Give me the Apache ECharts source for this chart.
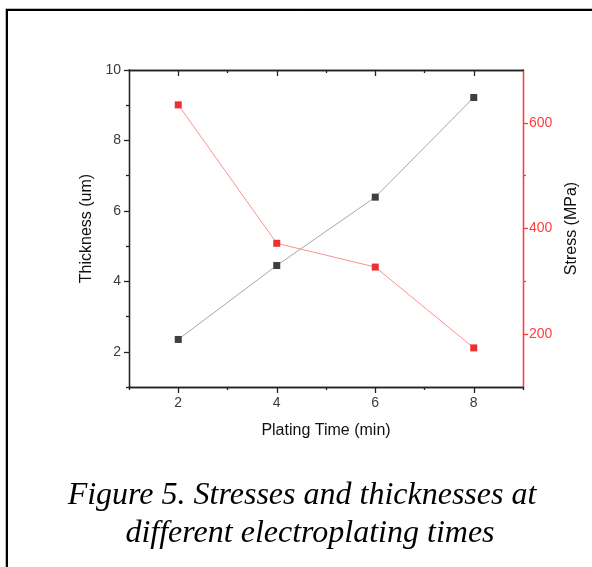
<!DOCTYPE html>
<html>
<head>
<meta charset="utf-8">
<script src="https://cdn.jsdelivr.net/npm/echarts@6/dist/echarts.min.js"></script>
<style>html,body{margin:0;padding:0;background:#fff;}#c{width:592px;height:567px;}</style>
</head>
<body>
<div id="c"></div>
<script>
const platingTime = [2, 4, 6, 8];
const thickness = [2.35, 4.45, 6.39, 9.22];
const stress = [634, 372, 327, 174];
const xMajor = [2, 4, 6, 8];
const xMinor = [1, 3, 5, 7, 9];
const yLeftMajor = [2, 4, 6, 8, 10];
const yLeftMinor = [1, 3, 5, 7, 9];
const yRightMajor = [200, 400, 600];
const yRightMinor = [300, 500];
const captionLines = ['Figure 5. Stresses and thicknesses at', 'different electroplating times'];

const RED = '#ff3c3c';
const AX = '#222';
const LBL = '#3a3a3a';
const font = 'Arial, "Liberation Sans", sans-serif';

function xAx(pos, major, len, inside, showLabel, name) {
  return {
    type: 'value', position: pos, min: 1, max: 9, interval: 1,
    axisLine: { show: true, onZero: false, lineStyle: { color: AX, width: 1.3 } },
    axisTick: { show: true, inside: inside, length: len, customValues: major, lineStyle: { color: AX, width: 1.3 } },
    axisLabel: { show: showLabel, customValues: major, color: LBL, fontSize: 14, fontFamily: font, margin: 9 },
    splitLine: { show: false },
    name: name || '', nameLocation: 'middle', nameGap: 36,
    nameTextStyle: { color: '#111', fontSize: 16, fontFamily: font }
  };
}
function yAx(pos, min, max, ticks, len, showLabel, color, name, gap) {
  return {
    type: 'value', position: pos, min: min, max: max,
    axisLine: { show: true, onZero: false, lineStyle: { color: color, width: 1.3 } },
    axisTick: { show: true, length: len, customValues: ticks, lineStyle: { color: color, width: 1.3 } },
    axisLabel: { show: showLabel, customValues: ticks, color: color === AX ? LBL : color, fontSize: 14, fontFamily: font, margin: pos === 'left' ? 8 : 6 },
    splitLine: { show: false },
    name: name || '', nameLocation: 'middle', nameGap: gap || 30,
    nameTextStyle: { color: '#111', fontSize: 16, fontFamily: font }
  };
}

const chart = echarts.init(document.getElementById('c'), null, { renderer: 'canvas' });
chart.setOption({
  backgroundColor: '#fff',
  animation: false,
  grid: { left: 129, top: 70, right: 69, bottom: 180, containLabel: false },
  xAxis: [
    xAx('bottom', xMajor, 6, false, true, 'Plating Time (min)'),
    xAx('bottom', xMinor, 3, false, false),
    xAx('top', xMajor, 6, true, false),
    xAx('top', [3, 5, 7], 3, true, false)
  ],
  yAxis: [
    yAx('left', 1, 10, yLeftMajor, 5, true, AX, 'Thickness (um)', 31.5),
    yAx('left', 1, 10, yLeftMinor, 3, false, AX),
    yAx('right', 100, 700, yRightMajor, 5, true, RED, 'Stress (MPa)', 38),
    yAx('right', 100, 700, yRightMinor, 3, false, RED)
  ],
  graphic: [
    { type: 'rect', shape: { x: 5.5, y: 8.5, width: 700, height: 700 }, style: { fill: 'none', stroke: '#bbb', lineWidth: 1 }, z: 100 },
    { type: 'rect', shape: { x: 7, y: 10, width: 700, height: 700 }, style: { fill: 'none', stroke: '#000', lineWidth: 2 }, z: 100 },
    { type: 'text', x: 302, y: 496, style: { text: captionLines[0], font: 'italic 32px "Liberation Serif", "DejaVu Serif", serif', fill: '#000', textAlign: 'center', textVerticalAlign: 'middle' } },
    { type: 'text', x: 310, y: 534, style: { text: captionLines[1], font: 'italic 32px "Liberation Serif", "DejaVu Serif", serif', fill: '#000', textAlign: 'center', textVerticalAlign: 'middle' } }
  ],
  series: [
    {
      type: 'line', xAxisIndex: 0, yAxisIndex: 0,
      data: platingTime.map((x, i) => [x, thickness[i]]),
      symbol: 'rect', symbolSize: 7,
      itemStyle: { color: '#3f3f3f' },
      lineStyle: { color: '#a8a8a8', width: 1 }
    },
    {
      type: 'line', xAxisIndex: 0, yAxisIndex: 2,
      data: platingTime.map((x, i) => [x, stress[i]]),
      symbol: 'rect', symbolSize: 7,
      itemStyle: { color: '#f03030' },
      lineStyle: { color: '#ff9090', width: 1 }
    }
  ]
});
</script>
</body>
</html>
